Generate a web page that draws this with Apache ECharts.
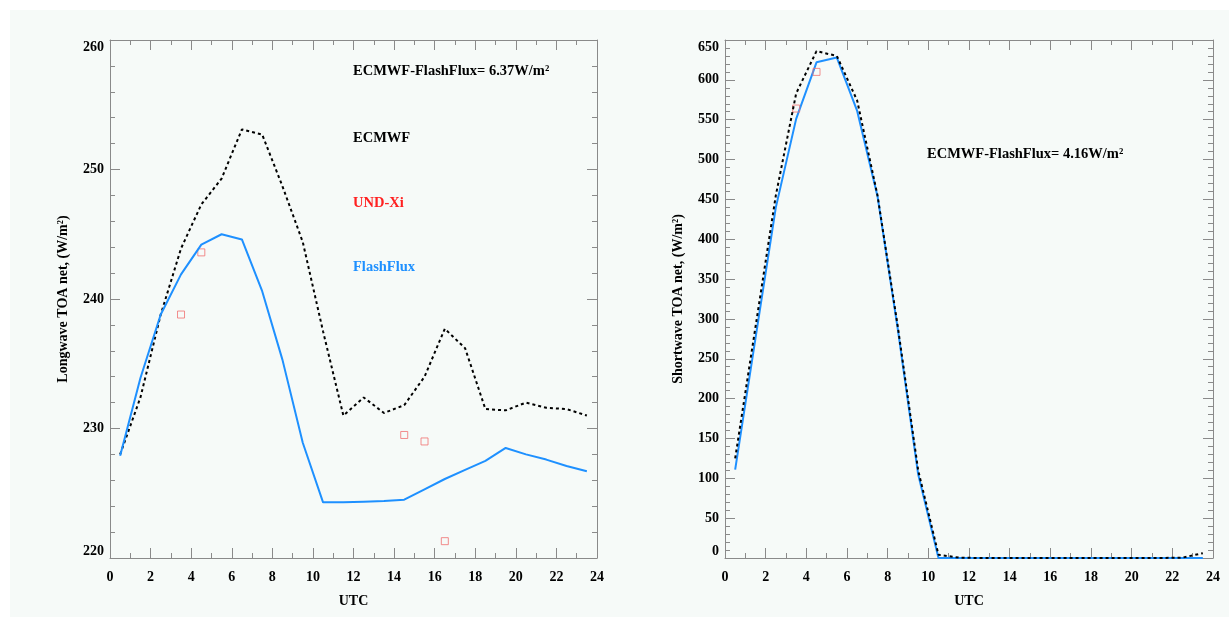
<!DOCTYPE html>
<html>
<head>
<meta charset="utf-8">
<script src="https://cdn.jsdelivr.net/npm/echarts@6/dist/echarts.min.js"></script>
<style>
  html, body { margin: 0; padding: 0; background: #fff; }
  #main { width: 1229px; height: 617px; }
</style>
</head>
<body>
<div id="main"></div>
<script>
// hour of day (UTC), half-hour centred
var hours = [0.5, 1.5, 2.5, 3.5, 4.5, 5.5, 6.5, 7.5, 8.5, 9.5, 10.5, 11.5,
             12.5, 13.5, 14.5, 15.5, 16.5, 17.5, 18.5, 19.5, 20.5, 21.5, 22.5, 23.5];

// longwave TOA net (W/m2)
var lwEcmwf = [228.0, 232.4, 238.8, 243.9, 247.3, 249.3, 253.1, 252.7, 248.7, 244.4, 237.5, 231.0,
               232.4, 231.2, 231.8, 234.0, 237.7, 236.2, 231.5, 231.4, 232.0, 231.6, 231.5, 231.0];
var lwFlash = [227.9, 233.9, 238.8, 241.9, 244.2, 245.0, 244.6, 240.6, 235.3, 228.9, 224.3, 224.3,
               224.35, 224.4, 224.5, 225.3, 226.1, 226.8, 227.5, 228.5, 228.0, 227.6, 227.1, 226.7];
var lwUndHours = [3.5, 4.5, 14.5, 15.5, 16.5];
var lwUnd = [238.8, 243.6, 229.5, 229.0, 221.3];

// shortwave TOA net (W/m2)
var swEcmwf = [125, 290, 455, 583, 636, 630, 574, 455, 290, 110, 4, 0.5,
               0, 0, 0, 0, 0, 0, 0, 0, 0, 0, 0.5, 6];
var swFlash = [111, 276, 440, 551, 622, 628, 561, 454, 287, 105, 0, 0,
               0, 0, 0, 0, 0, 0, 0, 0, 0, 0, 0, 0];
var swUndHours = [3.5, 4.5];
var swUnd = [564, 610];

var lwDiff = 'ECMWF-FlashFlux= 6.37W/m²';
var swDiff = 'ECMWF-FlashFlux= 4.16W/m²';

function pairs(xs, ys) {
    return xs.map(function (x, i) { return [x, ys[i]]; });
}

var axisGrey = '#8a8a8a';
var font = 'Liberation Serif';
var noteFont = 'bold 14.5px "Liberation Serif"';
var labelStyle = {
    color: '#000', fontFamily: font, fontWeight: 'bold', fontSize: 14
};

function xAx(grid, pos, showLabel) {
    return {
        gridIndex: grid, type: 'value', position: pos,
        min: 0, max: 24, interval: 2,
        name: showLabel ? 'UTC' : '', nameLocation: 'middle', nameGap: 36,
        nameTextStyle: labelStyle,
        axisLine: { show: true, onZero: false, lineStyle: { color: axisGrey, width: 1 } },
        axisTick: { show: true, inside: true, length: 10, lineStyle: { color: axisGrey } },
        minorTick: { show: true, splitNumber: 2, length: 5, lineStyle: { color: axisGrey } },
        axisLabel: Object.assign({ show: showLabel, margin: 12 }, labelStyle),
        splitLine: { show: false }
    };
}

function yAx(grid, pos, showLabel, min, max, step, name) {
    return {
        gridIndex: grid, type: 'value', position: pos,
        min: min, max: max, interval: step,
        name: showLabel ? name : '', nameLocation: 'middle', nameGap: 40,
        nameTextStyle: labelStyle,
        axisLine: { show: true, onZero: false, lineStyle: { color: axisGrey, width: 1 } },
        axisTick: { show: true, inside: true, length: 10, lineStyle: { color: axisGrey } },
        minorTick: { show: true, splitNumber: 5, length: 5, lineStyle: { color: axisGrey } },
        axisLabel: Object.assign({
            show: showLabel, margin: 6,
            verticalAlignMinLabel: 'bottom', verticalAlignMaxLabel: 'top'
        }, labelStyle),
        splitLine: { show: false }
    };
}

var chart = echarts.init(document.getElementById('main'));

var option = {
    backgroundColor: '#f6faf8',
    animation: false,
    grid: [
        { left: 110, top: 40, width: 487, height: 518 },
        { left: 725, top: 40, width: 488, height: 518 }
    ],
    xAxis: [
        xAx(0, 'bottom', true), xAx(0, 'top', false),
        xAx(1, 'bottom', true), xAx(1, 'top', false)
    ],
    yAxis: [
        yAx(0, 'left', true, 220, 260, 10, 'Longwave TOA net, (W/m²)'),
        yAx(0, 'right', false, 220, 260, 10, ''),
        yAx(1, 'left', true, 0, 650, 50, 'Shortwave TOA net, (W/m²)'),
        yAx(1, 'right', false, 0, 650, 50, '')
    ],
    graphic: [
        { type: 'rect', left: 0, top: 0, shape: { width: 1229, height: 10 }, style: { fill: '#fff' }, z: -1 },
        { type: 'rect', left: 0, top: 0, shape: { width: 10, height: 617 }, style: { fill: '#fff' }, z: -1 },
        { type: 'text', left: 353, top: 64, style: { text: lwDiff, fill: '#000', font: noteFont } },
        { type: 'text', left: 353, top: 131, style: { text: 'ECMWF', fill: '#000', font: noteFont } },
        { type: 'text', left: 353, top: 196, style: { text: 'UND-Xi', fill: '#ff2020', font: noteFont } },
        { type: 'text', left: 353, top: 260, style: { text: 'FlashFlux', fill: '#1e90ff', font: noteFont } },
        { type: 'text', left: 927, top: 147, style: { text: swDiff, fill: '#000', font: noteFont } }
    ],
    series: [
        {
            name: 'ECMWF LW', type: 'line', xAxisIndex: 0, yAxisIndex: 0,
            data: pairs(hours, lwEcmwf), symbol: 'none',
            lineStyle: { color: '#000', width: 2, type: [3, 3] }
        },
        {
            name: 'FlashFlux LW', type: 'line', xAxisIndex: 0, yAxisIndex: 0,
            data: pairs(hours, lwFlash), symbol: 'none',
            lineStyle: { color: '#1e90ff', width: 2 }
        },
        {
            name: 'UND-Xi LW', type: 'scatter', xAxisIndex: 0, yAxisIndex: 0,
            data: pairs(lwUndHours, lwUnd), symbol: 'rect', symbolSize: 7,
            itemStyle: { color: 'none', borderColor: '#f07070', borderWidth: 1 }
        },
        {
            name: 'ECMWF SW', type: 'line', xAxisIndex: 2, yAxisIndex: 2,
            data: pairs(hours, swEcmwf), symbol: 'none', z: 3,
            lineStyle: { color: '#000', width: 2, type: [3, 3] }
        },
        {
            name: 'FlashFlux SW', type: 'line', xAxisIndex: 2, yAxisIndex: 2,
            data: pairs(hours, swFlash), symbol: 'none', z: 2,
            lineStyle: { color: '#1e90ff', width: 2 }
        },
        {
            name: 'UND-Xi SW', type: 'scatter', xAxisIndex: 2, yAxisIndex: 2,
            data: pairs(swUndHours, swUnd), symbol: 'rect', symbolSize: 7,
            itemStyle: { color: 'none', borderColor: '#f07070', borderWidth: 1 }
        }
    ]
};
chart.setOption(option);
</script>
</body>
</html>
